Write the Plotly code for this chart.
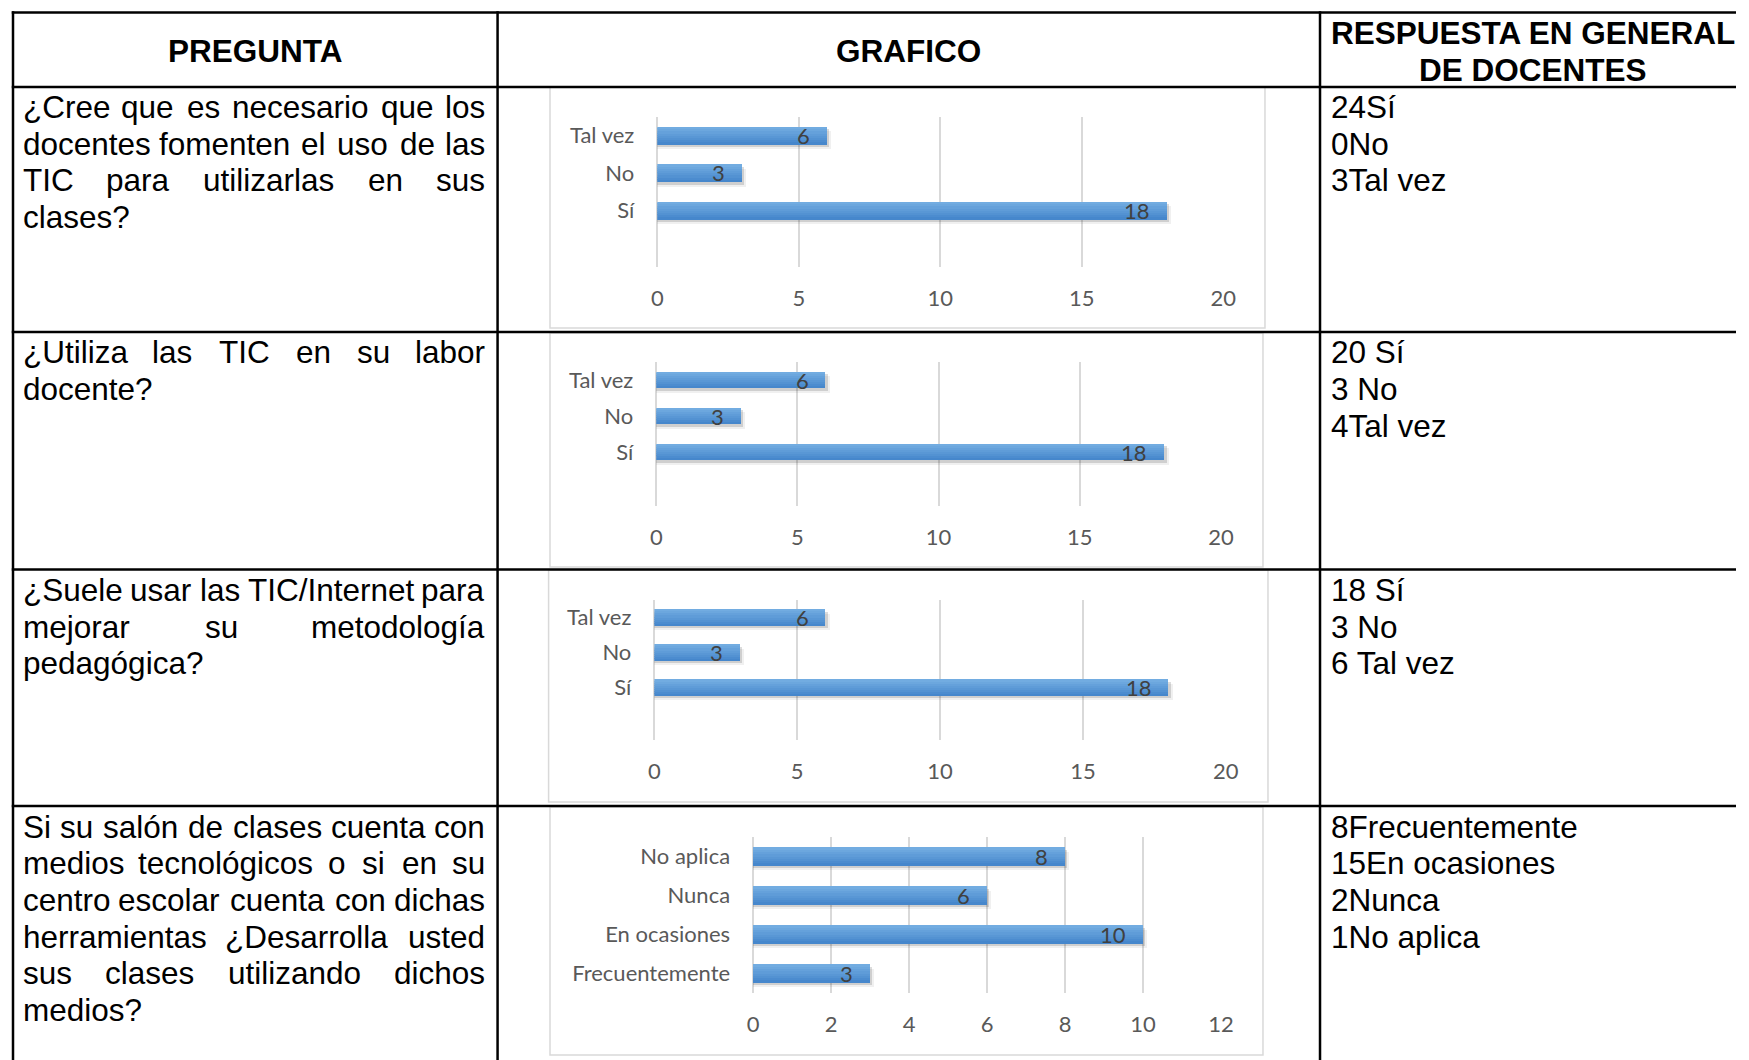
import plotly.graph_objects as go

W, H = 1749, 1060

# ---------------- data ----------------
header_pregunta = "PREGUNTA"
header_grafico = "GRAFICO"
header_respuesta = ["RESPUESTA EN GENERAL", "DE DOCENTES"]

question_lines = [
    ["¿Cree que es necesario que los", "docentes fomenten el uso de las",
     "TIC para utilizarlas en sus", "clases?"],
    ["¿Utiliza las TIC en su labor", "docente?"],
    ["¿Suele usar las TIC/Internet para", "mejorar su metodología", "pedagógica?"],
    ["Si su salón de clases cuenta con", "medios tecnológicos o si en su",
     "centro escolar cuenta con dichas", "herramientas ¿Desarrolla usted",
     "sus clases utilizando dichos", "medios?"],
]
answer_lines = [
    ["24Sí", "0No", "3Tal vez"],
    ["20 Sí", "3 No", "4Tal vez"],
    ["18 Sí", "3 No", "6 Tal vez"],
    ["8Frecuentemente", "15En ocasiones", "2Nunca", "1No aplica"],
]

cats_yes_no = ["Sí", "No", "Tal vez"]
vals_q1 = [18, 3, 6]
vals_q2 = [18, 3, 6]
vals_q3 = [18, 3, 6]
cats_freq = ["Frecuentemente", "En ocasiones", "Nunca", "No aplica"]
vals_q4 = [3, 10, 6, 8]

# ---------------- layout geometry ----------------
# target positions are given in picture pixels; a small horizontal
# calibration maps them to page pixels.
HX_SCALE, HX_OFF = 0.9886, 5.7

def page_x(x):
    return (x - HX_OFF) / HX_SCALE

def px(x):
    return min(max(page_x(x) / W, 0.0), 1.0)

def py(y):
    return min(max(1 - y / H, 0.0), 1.0)

col_x = [12.7, 497, 1319]
row_y = [12.5, 87, 332, 569.5, 806]
LINE_W = 2.5

charts = [
    dict(cats=cats_yes_no, vals=vals_q1, xmax=20, dtick=5, yr=[-1.5, 2.5],
         plot=(656.6, 1222.4, 116.7, 266.7), frame=(549.4, 1264, 87.3, 328)),
    dict(cats=cats_yes_no, vals=vals_q2, xmax=20, dtick=5, yr=[-1.5, 2.5],
         plot=(655.6, 1220.0, 362.0, 506.0), frame=(549.4, 1262, 333, 567)),
    dict(cats=cats_yes_no, vals=vals_q3, xmax=20, dtick=5, yr=[-1.5, 2.5],
         plot=(653.7, 1224.8, 599.7, 740.0), frame=(548.0, 1267, 570, 802)),
    dict(cats=cats_freq, vals=vals_q4, xmax=12, dtick=2, yr=[-0.5, 3.5],
         plot=(752.4, 1220.0, 837.0, 993.0), frame=(549.4, 1262, 807, 1055)),
]

TABLE_FONT = "Liberation Sans, Arial, sans-serif"
CHART_FONT = "Lato, Open Sans, sans-serif"
FS = 31.5
LINE_H = 36.7
CHART_FS = 22

# Arial / Liberation Sans advance widths (per 1000 em)
AW = {
    'a': 556, 'b': 556, 'c': 500, 'd': 556, 'e': 556, 'f': 278, 'g': 556, 'h': 556,
    'i': 222, 'j': 222, 'k': 500, 'l': 222, 'm': 833, 'n': 556, 'o': 556, 'p': 556,
    'q': 556, 'r': 333, 's': 500, 't': 278, 'u': 556, 'v': 500, 'w': 722, 'x': 500,
    'y': 500, 'z': 500, 'á': 556, 'é': 556, 'í': 278, 'ó': 556, 'ú': 556, 'ñ': 556,
    'A': 667, 'B': 667, 'C': 722, 'D': 722, 'E': 667, 'F': 611, 'G': 778, 'H': 722,
    'I': 278, 'J': 500, 'K': 667, 'L': 556, 'M': 833, 'N': 722, 'O': 778, 'P': 667,
    'Q': 778, 'R': 722, 'S': 667, 'T': 611, 'U': 722, 'V': 667, 'W': 944, 'X': 667,
    'Y': 667, 'Z': 611, ' ': 278, '?': 556, '¿': 611, '/': 278, '.': 278, ',': 278,
}

def text_w(s, fs):
    return sum(AW.get(ch, 556) for ch in s) * fs / 1000.0

fig = go.Figure()
annotations = []
shapes = []

def ann_page(text, xp, y, anchor="left", size=FS, bold=False, color="#000000"):
    annotations.append(dict(
        text=f"<b>{text}</b>" if bold else text,
        x=min(max(xp / W, 0.0), 1.0), y=py(y), xref="paper", yref="paper",
        xanchor=anchor, yanchor="middle", showarrow=False, borderpad=0,
        font=dict(family=TABLE_FONT, size=size, color=color)))

def ann(text, x, y, anchor="left", size=FS, bold=False):
    ann_page(text, page_x(x), y, anchor, size, bold)

def add_line(text, y, L, R, justify):
    Lp, Rp = page_x(L), page_x(R)
    if not justify:
        ann_page(text, Lp, y, "left")
        return
    words = text.split(" ")
    ws = [text_w(w, FS) for w in words]
    gap = (Rp - Lp - sum(ws)) / (len(words) - 1)
    x = Lp
    for i, (w, ww) in enumerate(zip(words, ws)):
        if i == 0:
            ann_page(w, Lp, y, "left")
        elif i == len(words) - 1:
            ann_page(w, Rp, y, "right")
        else:
            ann_page(w, x + ww / 2, y, "center")
        x += ww + gap

# ---------------- charts ----------------
BAR_W = 0.47
N_SLICES = 8
top_rgb = (0x72, 0xAC, 0xE1)
bot_rgb = (0x46, 0x87, 0xCC)

for i, ch in enumerate(charts):
    n = "" if i == 0 else str(i + 1)
    xa, ya = "x" + n, "y" + n
    x0, x1, y0, y1 = ch["plot"]
    px_per_x = (page_x(x1) - page_x(x0)) / ch["xmax"]
    px_per_y = (y1 - y0) / (ch["yr"][1] - ch["yr"][0])
    # frame
    fx0, fx1, fy0, fy1 = ch["frame"]
    shapes.append(dict(type="rect", xref="paper", yref="paper",
                       x0=px(fx0), x1=px(fx1), y0=py(fy1), y1=py(fy0),
                       line=dict(color="#d9d9d9", width=1.5), fillcolor="white",
                       layer="below"))
    # soft shadow (two layers)
    for d, a in ((4.5, 0.07), (2.5, 0.16)):
        sx = d / px_per_x
        sy = d / px_per_y
        fig.add_trace(go.Bar(
            x=[v + sx for v in ch["vals"]], y=ch["cats"], orientation="h",
            xaxis=xa, yaxis=ya, width=BAR_W, offset=-BAR_W / 2 - sy,
            marker=dict(color="rgba(40,40,40,%.2f)" % a, line=dict(width=0)),
            hoverinfo="skip", showlegend=False))
    # gradient bar slices (bottom dark -> top light)
    sw = BAR_W / N_SLICES
    for k in range(N_SLICES):
        t = k / (N_SLICES - 1)
        c = tuple(round(bot_rgb[j] + (top_rgb[j] - bot_rgb[j]) * t) for j in range(3))
        wk = sw * (1.0 if k == N_SLICES - 1 else 1.35)
        fig.add_trace(go.Bar(
            x=ch["vals"], y=ch["cats"], orientation="h",
            xaxis=xa, yaxis=ya, width=wk, offset=-BAR_W / 2 + k * sw,
            marker=dict(color="rgb(%d,%d,%d)" % c, line=dict(width=0)),
            hoverinfo="skip", showlegend=False))
    # data labels (inside end)
    for c_, v in zip(ch["cats"], ch["vals"]):
        annotations.append(dict(
            text=str(v), x=v, y=c_, xref=xa, yref=ya, xanchor="right",
            yanchor="middle", xshift=-16, showarrow=False, borderpad=0,
            font=dict(family=CHART_FONT, size=CHART_FS, color="#404040")))
    tickfont = dict(family=CHART_FONT, size=CHART_FS, color="#595959")
    fig.layout["xaxis" + n] = dict(
        domain=[px(x0), px(x1)], range=[0, ch["xmax"]], tick0=0, dtick=ch["dtick"],
        showgrid=True, gridcolor="#d9d9d9", gridwidth=2,
        zeroline=True, zerolinecolor="#d9d9d9", zerolinewidth=2,
        showline=False, ticks="", tickfont=tickfont, ticklabelstandoff=16,
        anchor=ya, fixedrange=True)
    fig.layout["yaxis" + n] = dict(
        domain=[py(y1), py(y0)], type="category", categoryorder="array",
        categoryarray=ch["cats"], range=ch["yr"], showgrid=False, zeroline=False,
        showline=False, ticks="", tickfont=tickfont, ticklabelstandoff=22,
        anchor=xa, fixedrange=True)

# ---------------- table lines ----------------
for y in row_y:
    shapes.append(dict(type="line", xref="paper", yref="paper",
                       x0=px(col_x[0]) - LINE_W / 2 / W, x1=1.0, y0=py(y), y1=py(y),
                       line=dict(color="black", width=LINE_W)))
for x in col_x:
    shapes.append(dict(type="line", xref="paper", yref="paper",
                       x0=px(x), x1=px(x), y0=py(row_y[0] - LINE_W / 2), y1=0.0,
                       line=dict(color="black", width=LINE_W)))

# ---------------- header text ----------------
ann(header_pregunta, (col_x[0] + col_x[1]) / 2, 51, "center", bold=True)
ann(header_grafico, (col_x[1] + col_x[2]) / 2, 51, "center", bold=True)
for k, t in enumerate(header_respuesta):
    ann_page(t, 1544, 33.3 + k * LINE_H, "center", size=31.5, bold=True)

# ---------------- question / answer text ----------------
row_first_y = [107, 352.5, 590, 826.5]
L, R = 21.5, 485.5
for r, lines in enumerate(question_lines):
    for k, t in enumerate(lines):
        add_line(t, row_first_y[r] + k * LINE_H, L, R, justify=(k < len(lines) - 1))
for r, lines in enumerate(answer_lines):
    for k, t in enumerate(lines):
        ann(t, 1328.5, row_first_y[r] + k * LINE_H, "left")

fig.update_layout(
    width=W, height=H, margin=dict(l=0, r=0, t=0, b=0),
    paper_bgcolor="white", plot_bgcolor="rgba(0,0,0,0)",
    barmode="overlay", bargap=0, showlegend=False,
    shapes=shapes, annotations=annotations,
)

fig.write_html(
    "out.html",
    config={"displayModeBar": False, "responsive": False},
    post_script=("document.body.style.margin='0';"
                 "document.body.style.overflow='hidden';"
                 "document.documentElement.style.overflow='hidden';"),
)
